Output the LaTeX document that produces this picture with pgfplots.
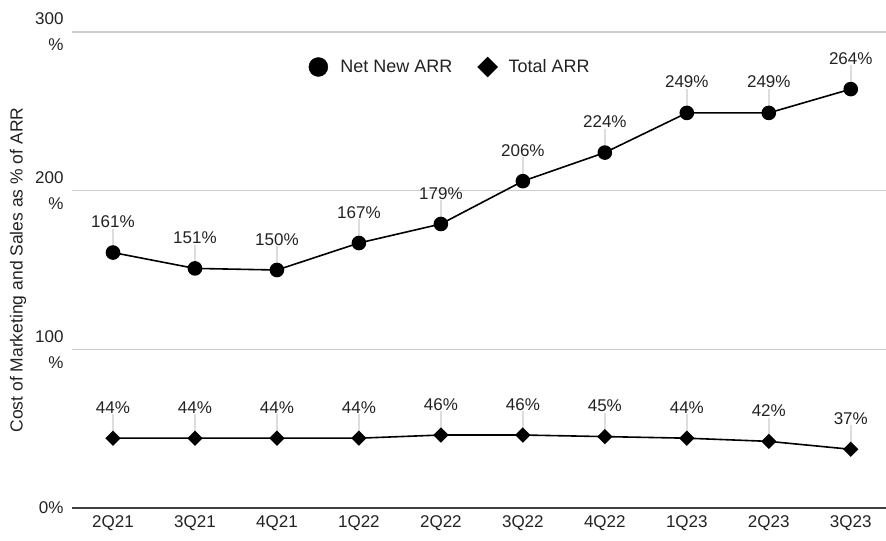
\documentclass[border=0pt]{standalone}
\usepackage{pgfplots}
\pgfplotsset{compat=1.18}
\usepackage{fontspec}
\setmainfont{Liberation Sans}
\definecolor{txt}{HTML}{222222}
\definecolor{gridc}{HTML}{CCCCCC}
\definecolor{lead}{HTML}{DDDDDD}
\begin{document}
\begin{tikzpicture}
\begin{axis}[
  name=ax,
  scale only axis,
  width=814pt, height=476pt,
  xmin=-0.5, xmax=9.43,
  ymin=0, ymax=300,
  /pgf/number format/assume math mode=true,
  axis line style={draw=none},
  major tick length=0pt,
  xtick={0,...,9},
  xticklabels={2Q21,3Q21,4Q21,1Q22,2Q22,3Q22,4Q22,1Q23,2Q23,3Q23},
  xticklabel style={font=\fontsize{17}{20}\selectfont, text=txt, yshift=-4pt},
  ytick={100,200,300},
  yticklabels={{100\\\%},{200\\\%},{300\\\%}},
  yticklabel style={font=\fontsize{17}{26}\selectfont, text=txt, align=right, xshift=-5pt},
  extra y ticks={0},
  extra y tick labels={0\%},
  extra y tick style={grid style={color=black!75, line width=1.4pt}},
  ymajorgrids,
  grid style={color=gridc, line width=1.4pt},
  clip=false,
  legend style={at={(0.2905,0.9265)}, anchor=west, draw=none, fill=none,
    inner sep=0pt, font=\fontsize{18}{20}\selectfont, text=txt,
    legend columns=2,
    nodes={inner sep=3pt},
    /tikz/every even column/.append style={column sep=22pt}},
  legend cell align=left,
  nodes near coords={\pgfmathprintnumber{\pgfplotspointmeta}\%},
  every node near coord/.append style={anchor=south, inner sep=1pt, yshift=23pt,
    font=\fontsize{17}{20}\selectfont, text=txt},
]
\addplot[black, line width=1.6pt, mark=*, mark size=6.5pt, forget plot,
  error bars/.cd, y dir=plus, y fixed=15, error mark=none,
  error bar style={lead, line width=1.5pt}]
  coordinates {(0,161) (1,151) (2,150) (3,167) (4,179) (5,206) (6,224) (7,249) (8,249) (9,264)};
\addplot[black, line width=1.6pt, mark=square*, mark size=4.6pt, mark options={rotate=45}, forget plot,
  error bars/.cd, y dir=plus, y fixed=15, error mark=none,
  error bar style={lead, line width=1.5pt}]
  coordinates {(0,44) (1,44) (2,44) (3,44) (4,46) (5,46) (6,45) (7,44) (8,42) (9,37)};
\addlegendimage{legend image code/.code={\path[draw=none] (-9.5pt,0) -- (19pt,0); \fill[black] (0,0) circle (9.5pt);}}
\addlegendentry{Net New ARR}
\addlegendimage{legend image code/.code={\path[draw=none] (-10pt,0) -- (18pt,0); \fill[black] (0,10pt) -- (10pt,0) -- (0,-10pt) -- (-10pt,0) -- cycle;}}
\addlegendentry{Total ARR}
\end{axis}
\node[rotate=90, font=\fontsize{17.5}{20}\selectfont, text=txt] at ([xshift=-54pt]ax.west) {Cost of Marketing and Sales as \% of ARR};
\pgfresetboundingbox
\path[use as bounding box] ([xshift=-72pt,yshift=-32pt]ax.south west) rectangle ([xshift=0pt,yshift=32pt]ax.north east);
\end{tikzpicture}
\end{document}
